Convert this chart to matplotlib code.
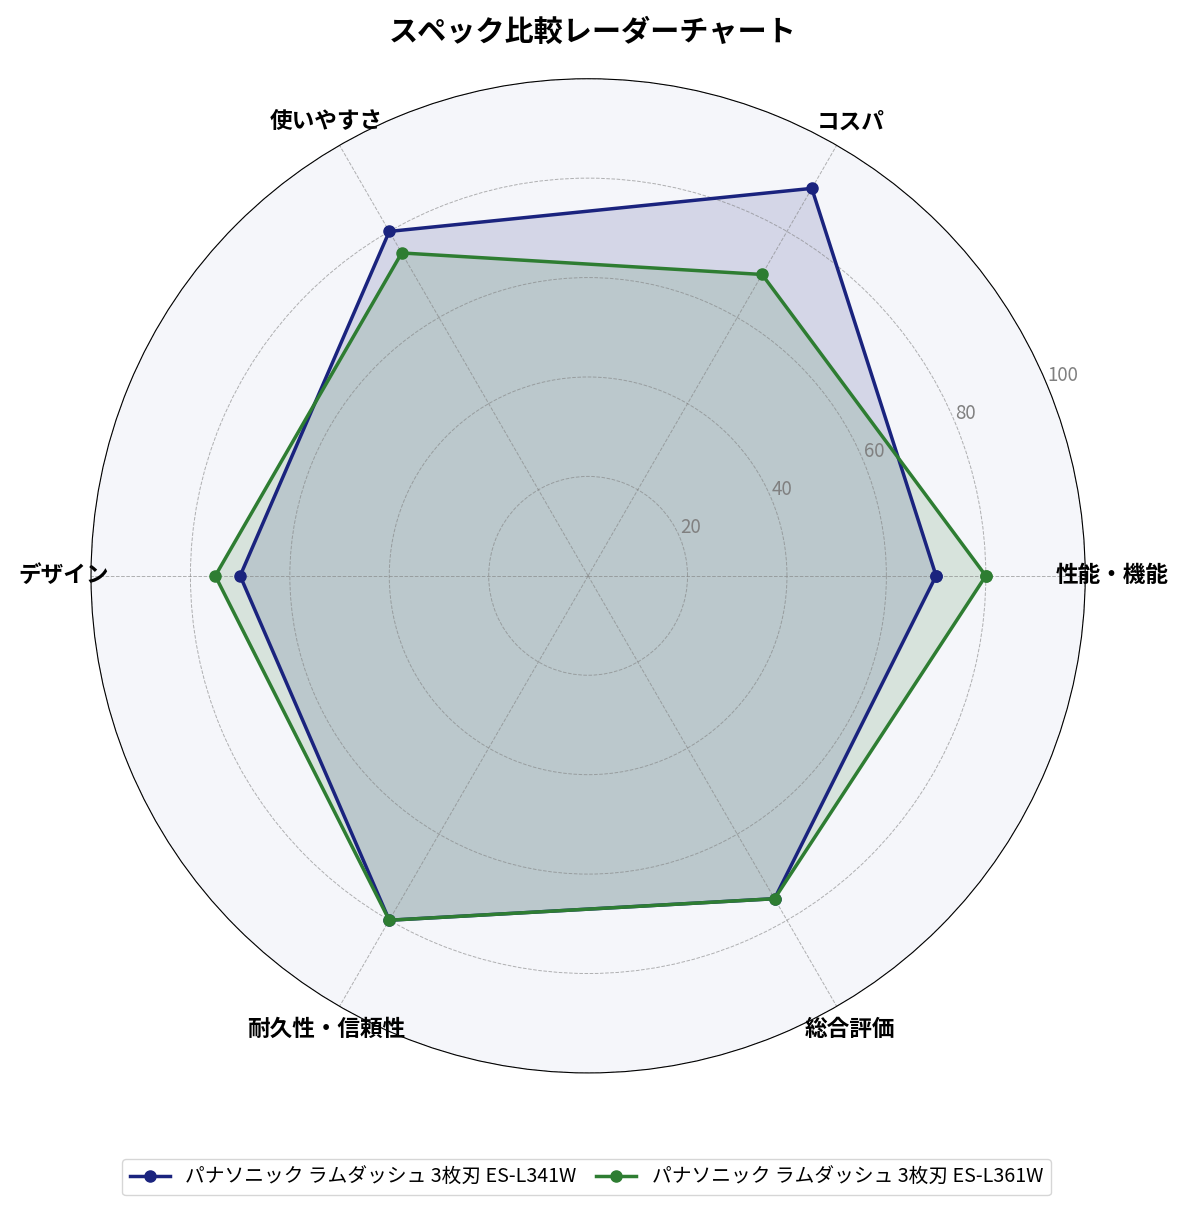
import numpy as np
import matplotlib
matplotlib.use('Agg')
import matplotlib.pyplot as plt

plt.rcParams['font.family'] = ['Noto Sans CJK JP', 'DejaVu Sans']

categories = ['性能・機能', 'コスパ', '使いやすさ', 'デザイン', '耐久性・信頼性', '総合評価']
series_names = ['パナソニック ラムダッシュ 3枚刃 ES-L341W', 'パナソニック ラムダッシュ 3枚刃 ES-L361W']
scores_341 = [70, 90, 80, 70, 80, 75]
scores_361 = [80, 70, 75, 75, 80, 75]
colors = ['#1a237e', '#2e7d32']

angles = np.linspace(0, 2 * np.pi, len(categories), endpoint=False)

fig = plt.figure(figsize=(11.85, 12.11), dpi=100)
ax = fig.add_axes([0.0768, 0.114, 0.839, 0.821], projection='polar')
ax.set_facecolor('#f5f6fa')

for vals, name, c in zip([scores_341, scores_361], series_names, colors):
    a = np.append(angles, angles[0])
    v = np.append(vals, vals[0])
    ax.plot(a, v, color=c, linewidth=2.5, marker='o', markersize=8, label=name)
    ax.fill(a, v, color=c, alpha=0.15)

ax.set_ylim(0, 100)
ax.set_yticks([20, 40, 60, 80, 100])
ax.set_yticklabels(['20', '40', '60', '80', '100'], color='gray', fontsize=13.5)
ax.set_rlabel_position(22.5)
ax.set_xticks(angles)
ax.set_xticklabels(categories, fontsize=16.3, fontweight='bold')
ax.tick_params(axis='x', pad=9)
ax.grid(True, color='gray', linestyle='--', linewidth=0.7, alpha=0.6)
ax.spines['polar'].set_color('black')

fig.suptitle('スペック比較レーダーチャート', fontsize=21, fontweight='bold', y=0.986)
fig.legend(loc='center', bbox_to_anchor=(0.495, 0.028), ncol=2, fontsize=14.2,
           columnspacing=1.0, handlelength=2.0)

fig.savefig('out.png', dpi=100)
